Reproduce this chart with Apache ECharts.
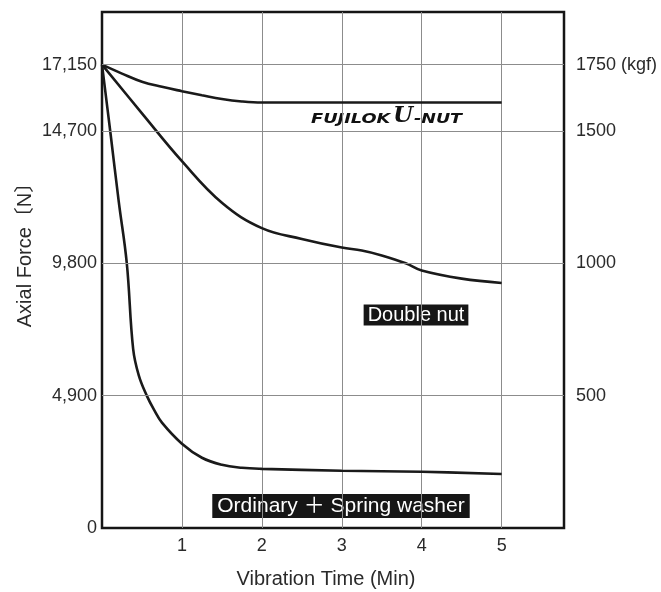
<!DOCTYPE html>
<html>
<head>
<meta charset="utf-8">
<script src="https://cdn.jsdelivr.net/npm/echarts@6/dist/echarts.min.js"></script>
<style>
  html, body { margin: 0; padding: 0; background: #fff; }
  #chart { width: 661px; height: 592px; }
</style>
</head>
<body>
<div id="chart"></div>
<script>
// vibration time (min) / axial force (N)
const uNutTime = [0, 0.25, 0.5, 0.75, 1, 1.25, 1.5, 1.75, 2, 3, 4, 5];
const uNutForce = [17150, 16820, 16520, 16330, 16170, 16020, 15880, 15790, 15750, 15750, 15750, 15750];

const doubleNutTime = [0, 0.5, 1, 1.5, 2, 2.5, 3, 3.25, 3.5, 3.8, 4, 4.5, 5];
const doubleNutForce = [17150, 15350, 13580, 12040, 11100, 10700, 10380, 10270, 10090, 9800, 9530, 9230, 9070];

const ordinaryTime = [0, 0.11, 0.21, 0.31, 0.39, 0.46, 0.56, 0.65, 0.75, 1, 1.25, 1.5, 1.75, 2, 3, 4, 5];
const ordinaryForce = [17150, 14520, 12070, 9800, 6620, 5650, 4900, 4380, 3900, 3120, 2600, 2340, 2230, 2190, 2120, 2080, 2000];

const forceTicks = [0, 4900, 9800, 14700, 17150];
const kgfTicks = [500, 1000, 1500, 1750];
const timeTicks = [1, 2, 3, 4, 5];

const pair = (xs, ys) => xs.map((x, i) => [x, ys[i]]);

const myChart = echarts.init(document.getElementById('chart'));

const fontFamily = '"Liberation Sans", Arial, Helvetica, sans-serif';
const lineColor = '#1a1a1a';
const gridGray = '#8c8c8c';

const curve = (name, data) => ({
    name: name,
    type: 'line',
    data: data,
    smooth: 0.4,
    symbol: 'none',
    lineStyle: { color: lineColor, width: 2.6 },
    z: 3,
    silent: true,
});

const option = {
    animation: false,
    grid: {
        left: 102,
        right: 97,
        top: 12,
        bottom: 64,
        show: true,
        borderColor: '#151515',
        borderWidth: 2.5,
        backgroundColor: 'transparent',
    },
    xAxis: {
        type: 'value',
        min: 0,
        max: 5.78,
        interval: 1,
        axisLine: { show: false },
        axisTick: { show: false },
        axisLabel: {
            fontSize: 18,
            color: '#2a2a2a',
            fontFamily: fontFamily,
            margin: 9,
            formatter: (v) => timeTicks.includes(v) ? String(v) : '',
        },
        splitLine: {
            show: true,
            showMinLine: false,
            showMaxLine: false,
            lineStyle: { color: gridGray, width: 1 },
        },
    },
    yAxis: [
        {
            type: 'value',
            min: 0,
            max: 19100,
            interval: 2450,
            axisLine: { show: false },
            axisTick: { show: false },
            splitLine: { show: false },
            axisLabel: {
                fontSize: 18,
                color: '#2a2a2a',
                fontFamily: fontFamily,
                margin: 5,
                formatter: (v) => forceTicks.includes(v) ? v.toLocaleString('en-US') : '',
            },
        },
        {
            type: 'value',
            position: 'right',
            min: 0,
            max: 19100 / 9.8,
            interval: 250,
            axisLine: { show: false },
            axisTick: { show: false },
            splitLine: { show: false },
            axisLabel: {
                fontSize: 18,
                color: '#2a2a2a',
                fontFamily: fontFamily,
                margin: 12,
                formatter: (v) => {
                    if (!kgfTicks.includes(v)) return '';
                    return v === 1750 ? '1750 (kgf)' : String(v);
                },
            },
        },
    ],
    series: [
        {
            // horizontal grid lines at the labelled forces
            type: 'line',
            data: [],
            silent: true,
            z: 1,
            markLine: {
                silent: true,
                symbol: 'none',
                label: { show: false },
                lineStyle: { color: gridGray, width: 1, type: 'solid' },
                data: forceTicks.filter(v => v > 0).map(v => ({ yAxis: v })),
            },
        },
        curve('FUJILOK U-NUT', pair(uNutTime, uNutForce)),
        curve('Double nut', pair(doubleNutTime, doubleNutForce)),
        curve('Ordinary + Spring washer', pair(ordinaryTime, ordinaryForce)),
    ],
    graphic: [
        {
            type: 'text',
            x: 25,
            y: 250,
            rotation: Math.PI / 2,
            style: {
                text: 'Axial Force〔N〕',
                font: '20px ' + fontFamily + ', "Noto Sans CJK JP"',
                fill: '#2a2a2a',
                align: 'center',
                verticalAlign: 'middle',
            },
        },
        {
            type: 'text',
            x: 326,
            y: 579,
            style: {
                text: 'Vibration Time (Min)',
                font: '20px ' + fontFamily,
                fill: '#2a2a2a',
                align: 'center',
                verticalAlign: 'middle',
            },
        },
        // FUJILOK U-NUT logo
        {
            type: 'text',
            x: 311,
            y: 126,
            scaleX: 1.27,
            style: {
                text: 'FUJILOK',
                font: 'italic bold 14px "DejaVu Sans", sans-serif',
                fill: '#111',
                verticalAlign: 'bottom',
            },
        },
        {
            type: 'text',
            x: 393,
            y: 128,
            style: {
                text: 'U',
                font: 'italic bold 23px "DejaVu Serif", serif',
                fill: '#111',
                verticalAlign: 'bottom',
            },
        },
        {
            type: 'text',
            x: 414,
            y: 126,
            scaleX: 1.25,
            style: {
                text: '-NUT',
                font: 'italic bold 14px "DejaVu Sans", sans-serif',
                fill: '#111',
                verticalAlign: 'bottom',
            },
        },
        {
            type: 'text',
            x: 416,
            y: 315,
            style: {
                text: 'Double nut',
                font: '20px ' + fontFamily,
                fill: '#fff',
                backgroundColor: '#161616',
                padding: [1, 4, 0, 4],
                align: 'center',
                verticalAlign: 'middle',
            },
        },
        {
            type: 'text',
            x: 341,
            y: 506,
            style: {
                text: 'Ordinary ＋ Spring washer',
                font: '21px ' + fontFamily + ', "Noto Sans CJK JP"',
                fill: '#fff',
                backgroundColor: '#161616',
                padding: [2, 5, 1, 5],
                align: 'center',
                verticalAlign: 'middle',
            },
        },
    ],
};

myChart.setOption(option);
</script>
</body>
</html>
